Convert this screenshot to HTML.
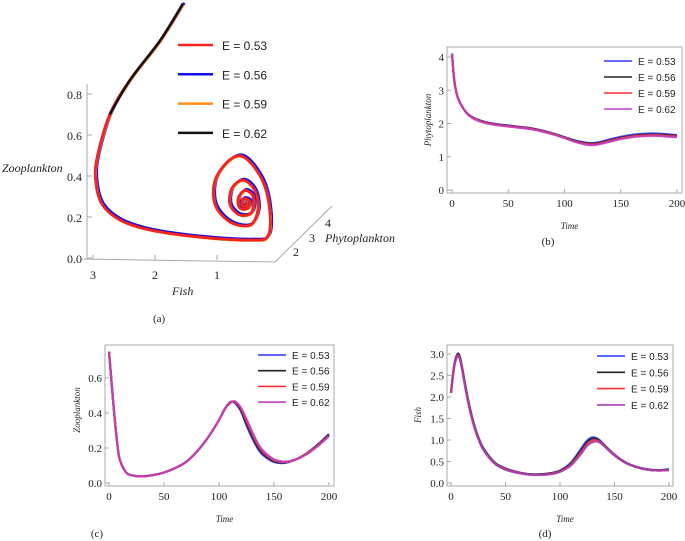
<!DOCTYPE html>
<html><head><meta charset="utf-8"><style>
html,body{margin:0;padding:0;background:#fff;}
svg{display:block;}
text{font-family:"Liberation Serif",serif;fill:#222;}
.lg{font-family:"Liberation Sans",sans-serif;}
</style></head><body>
<svg id="fig" width="685" height="541" viewBox="0 0 685 541" xmlns="http://www.w3.org/2000/svg"></svg>
<script>
// ---- Panel (a) phase portrait data ----
const aFish=[1.55,1.92,2.40,2.73,2.94,2.95,2.85,2.56,2.08,1.27,0.47,0.18,0.15,0.27,0.55,0.79,1.03,1.03,0.79,0.47,0.34,0.39,0.58,0.76,0.79,0.63,0.44,0.42,0.55,0.66,0.63,0.50,0.48,0.58,0.60,0.53,0.53];
const aZoo=[1.24,1.06,0.87,0.70,0.48,0.36,0.26,0.185,0.137,0.102,0.088,0.107,0.234,0.38,0.49,0.48,0.38,0.26,0.176,0.161,0.234,0.33,0.38,0.34,0.26,0.21,0.224,0.30,0.33,0.29,0.244,0.244,0.28,0.29,0.26,0.254,0.28];
const aLegend=["E = 0.53","E = 0.56","E = 0.59","E = 0.62"];
const aColors=["#ff2020","#1010ee","#ff8c1a","#111111"];
// ---- Panel (b) phytoplankton ----
const bTime=[0,2,5,10,15,20,30,40,50,60,70,80,90,100,110,120,125,130,140,150,160,170,180,190,200];
const bS1=[4.1,3.3,2.8,2.45,2.26,2.16,2.04,1.98,1.94,1.90,1.86,1.79,1.70,1.59,1.48,1.42,1.41,1.43,1.52,1.60,1.66,1.69,1.70,1.68,1.65];
const bS2=[4.1,3.3,2.8,2.45,2.25,2.15,2.03,1.97,1.93,1.89,1.85,1.78,1.69,1.58,1.47,1.40,1.39,1.41,1.49,1.57,1.63,1.66,1.67,1.65,1.63];
const bS3=[4.1,3.3,2.8,2.45,2.25,2.14,2.02,1.96,1.92,1.88,1.84,1.77,1.68,1.57,1.45,1.38,1.37,1.39,1.47,1.55,1.61,1.64,1.65,1.63,1.61];
const bS4=[4.1,3.3,2.8,2.45,2.24,2.13,2.01,1.95,1.91,1.87,1.83,1.76,1.67,1.56,1.44,1.36,1.35,1.37,1.45,1.53,1.59,1.62,1.63,1.61,1.59];
const bYTicks=[0,1,2,3,4];
// ---- Panel (c) zooplankton ----
const cTime=[0,2,5,8,10,15,20,30,40,50,60,70,80,90,100,105,110,113,115,120,125,130,135,140,150,160,170,180,190,200];
const cS1=[0.75,0.6,0.38,0.2,0.13,0.065,0.045,0.038,0.045,0.06,0.085,0.12,0.18,0.26,0.36,0.42,0.46,0.462,0.455,0.41,0.33,0.26,0.2,0.16,0.12,0.115,0.135,0.17,0.22,0.28];
const cS2=[0.75,0.6,0.38,0.2,0.13,0.065,0.045,0.038,0.045,0.06,0.085,0.12,0.18,0.26,0.36,0.42,0.46,0.464,0.458,0.415,0.34,0.27,0.21,0.168,0.125,0.118,0.135,0.17,0.22,0.275];
const cS3=[0.75,0.6,0.38,0.2,0.13,0.065,0.045,0.038,0.045,0.06,0.085,0.12,0.18,0.26,0.36,0.42,0.458,0.466,0.462,0.425,0.355,0.285,0.222,0.178,0.13,0.12,0.135,0.168,0.215,0.27];
const cS4=[0.75,0.6,0.38,0.2,0.13,0.065,0.045,0.038,0.045,0.06,0.085,0.12,0.18,0.26,0.36,0.42,0.456,0.466,0.464,0.43,0.365,0.295,0.23,0.185,0.135,0.122,0.135,0.166,0.212,0.268];
const cYTicks=[0,0.2,0.4,0.6];
// ---- Panel (d) fish ----
const dTime=[0,3,6,8,10,15,20,25,30,40,50,60,70,80,90,100,110,120,125,130,135,140,150,160,170,180,190,200];
const dS1=[2.1,2.75,3.0,2.95,2.72,2.02,1.47,1.07,0.8,0.48,0.34,0.26,0.21,0.2,0.22,0.29,0.47,0.82,0.99,1.06,1.02,0.9,0.66,0.48,0.38,0.32,0.3,0.32];
const dS2=[2.1,2.74,2.98,2.93,2.7,2.0,1.45,1.05,0.78,0.47,0.33,0.25,0.21,0.2,0.22,0.28,0.45,0.78,0.95,1.03,1.0,0.89,0.65,0.48,0.37,0.31,0.29,0.31];
const dS3=[2.1,2.73,2.96,2.91,2.68,1.98,1.43,1.04,0.77,0.46,0.32,0.25,0.2,0.19,0.21,0.27,0.43,0.74,0.91,0.99,0.98,0.88,0.65,0.47,0.37,0.31,0.29,0.3];
const dS4=[2.1,2.72,2.94,2.89,2.66,1.96,1.42,1.03,0.76,0.45,0.31,0.24,0.2,0.19,0.2,0.26,0.41,0.7,0.87,0.95,0.96,0.87,0.64,0.47,0.37,0.31,0.29,0.3];
const dYTicks=[0,0.5,1.0,1.5,2.0,2.5,3.0];
const xTicks=[0,50,100,150,200];
const tsLegend=["E = 0.53","E = 0.56","E = 0.59","E = 0.62"];

const NS="http://www.w3.org/2000/svg";
const svg=document.getElementById('fig');
function mk(tag,attrs,parent){const e=document.createElementNS(NS,tag);for(const k in attrs)e.setAttribute(k,attrs[k]);(parent||svg).appendChild(e);return e;}
function smooth(pts){let d="M"+pts[0][0].toFixed(1)+","+pts[0][1].toFixed(1);
 for(let i=0;i<pts.length-1;i++){const p0=pts[Math.max(0,i-1)],p1=pts[i],p2=pts[i+1],p3=pts[Math.min(pts.length-1,i+2)];
  const c1=[p1[0]+(p2[0]-p0[0])/6,p1[1]+(p2[1]-p0[1])/6],c2=[p2[0]-(p3[0]-p1[0])/6,p2[1]-(p3[1]-p1[1])/6];
  d+="C"+c1[0].toFixed(1)+","+c1[1].toFixed(1)+" "+c2[0].toFixed(1)+","+c2[1].toFixed(1)+" "+p2[0].toFixed(1)+","+p2[1].toFixed(1);}
 return d;}

// ---------- Panel (a) ----------
const ga=mk('g',{});


function ax(f){return 93+(3-f)*62;}
function ay(z){return 258-z*205;}
mk('line',{x1:87,y1:84,x2:87,y2:259,stroke:'#aaa','stroke-width':1},ga);
mk('line',{x1:82,y1:259,x2:275,y2:262,stroke:'#aaa','stroke-width':1},ga);
mk('line',{x1:275,y1:262,x2:332,y2:206,stroke:'#aaa','stroke-width':1},ga);
[0,0.2,0.4,0.6,0.8].forEach(v=>{const y=ay(v);mk('line',{x1:87,y1:y,x2:92,y2:y,stroke:'#aaa'},ga);
 const t=mk('text',{x:82,y:y+5,'text-anchor':'end','font-size':12},ga);t.textContent=v.toFixed(1);
 });
[3,2,1].forEach(v=>{const x=ax(v);mk('line',{x1:x,y1:260,x2:x,y2:255,stroke:'#aaa'},ga);
 const t=mk('text',{x:x,y:279,'text-anchor':'middle','font-size':12},ga);t.textContent=String(v);
 });
[[2,293,256],[3,309,242],[4,325,227]].forEach(a=>{const t=mk('text',{x:a[1],y:a[2],'font-size':12},ga);t.textContent=String(a[0]);
 });
let t=mk('text',{x:2,y:172,'font-size':12,'font-style':'italic'},ga);t.textContent='Zooplankton';

t=mk('text',{x:172,y:295,'font-size':12,'font-style':'italic'},ga);t.textContent='Fish';

t=mk('text',{x:325,y:242,'font-size':12,'font-style':'italic'},ga);t.textContent='Phytoplankton';

const clipA=mk('clipPath',{id:'clipA'},ga);mk('rect',{x:0,y:0,width:380,height:300},clipA);
const aPts=aFish.map((f,i)=>[ax(f),ay(aZoo[i])]);
const offs=[[0,0],[1.5,-1],[0.5,0.5],[0,0]];
[1,2,3,0].forEach(k=>{const p=mk('path',{d:smooth(aPts.map(q=>[q[0]+offs[k][0],q[1]+offs[k][1]])),fill:'none',stroke:aColors[k],'stroke-width':2.6,'clip-path':'url(#clipA)'},ga);
 });
const topSeg=aPts.slice(0,4);
mk('path',{d:smooth(topSeg),fill:'none',stroke:'#111','stroke-width':2.4,'clip-path':'url(#clipA)'},ga);
aLegend.forEach((s,i)=>{const y=45+i*29.3;
 const l=mk('line',{x1:178,y1:y,x2:213,y2:y,stroke:aColors[i],'stroke-width':2.5},ga);
 
 const tx=mk('text',{x:222,y:y+5,'font-size':12,class:'lg'},ga);tx.textContent=s;
 });
t=mk('text',{x:153,y:322,'font-size':11},ga);t.textContent='(a)';


// ---------- Time series panels ----------
function panel(o){
 const g=mk('g',{});
 
 
 const sx=v=>o.x0+(v/200)*(o.x1-o.x0);
 const sy=v=>o.y0-(v/o.ymaxT)*(o.y0-o.yT);
 const fr=mk('rect',{x:o.fx0,y:o.fy0,width:o.fx1-o.fx0,height:o.fy1-o.fy0,fill:'none',stroke:'#aaa','stroke-width':1},g);
 
 xTicks.forEach(v=>{const x=sx(v);mk('line',{x1:x,y1:o.fy1,x2:x,y2:o.fy1-4,stroke:'#aaa'},g);
  const tx=mk('text',{x:x,y:o.fy1+14,'text-anchor':'middle','font-size':11},g);tx.textContent=String(v);
  });
 o.yt.forEach(v=>{const y=sy(v);mk('line',{x1:o.fx0,y1:y,x2:o.fx0+4,y2:y,stroke:'#aaa'},g);
  const tx=mk('text',{x:o.fx0-3,y:y+4,'text-anchor':'end','font-size':11},g);tx.textContent=o.dec?v.toFixed(o.dec):String(v);
  });
 o.series.forEach((s,k)=>{const p=mk('path',{d:smooth(o.time.map((tt,i)=>[sx(tt),sy(s[i])])),fill:'none',stroke:o.colors[k],'stroke-width':2.2,'stroke-opacity':0.9},g);
  });
 tsLegend.forEach((s,i)=>{const y=o.ly+i*o.lgap;
  const l=mk('line',{x1:o.lx,y1:y,x2:o.lx+28,y2:y,stroke:o.colors[i],'stroke-width':1.6},g);
  
  const tx=mk('text',{x:o.lx+34,y:y+4,'font-size':10,class:'lg'},g);tx.textContent=s;
  });
 let tx=mk('text',{x:o.ylx,y:o.yly,'font-size':9,'font-style':'italic','text-anchor':'middle',transform:'rotate(-90 '+o.ylx+' '+o.yly+')'},g);tx.textContent=o.ylab;
 
 tx=mk('text',{x:(o.fx0+o.fx1)/2+5,y:o.fy1+36,'font-size':9,'font-style':'italic','text-anchor':'middle'},g);tx.textContent='Time';
 
 tx=mk('text',{x:o.capx,y:o.capy,'font-size':11,'text-anchor':'middle'},g);tx.textContent=o.cap;
 
}
panel({name:'panel-b-phytoplankton',x0:452,x1:677,y0:190,yT:57,ymaxT:4,fx0:447,fx1:682,fy0:47,fy1:193,yt:bYTicks,dec:0,
 time:bTime,series:[bS1,bS2,bS3,bS4],colors:['#3333ff','#222222','#ff3030','#c040c0'],
 lx:604,ly:61,lgap:16,ylab:'Phytoplankton',ylx:431,yly:120,cap:'(b)',capx:548,capy:245});
panel({name:'panel-c-zooplankton',x0:109,x1:329,y0:483,yT:378,ymaxT:0.6,fx0:105,fx1:334,fy0:345,fy1:486,yt:cYTicks,dec:1,
 time:cTime,series:[cS1,cS2,cS3,cS4],colors:['#2233ff','#222222','#ff3030','#c040c0'],
 lx:258,ly:355,lgap:15.7,ylab:'Zooplankton',ylx:80,yly:410,cap:'(c)',capx:97,capy:537});
panel({name:'panel-d-fish',x0:451,x1:669,y0:483,yT:354,ymaxT:3,fx0:447,fx1:673,fy0:345,fy1:486,yt:dYTicks,dec:1,
 time:dTime,series:[dS1,dS2,dS3,dS4],colors:['#2233ff','#222222','#ff3030','#a040b0'],
 lx:597,ly:356,lgap:16.3,ylab:'Fish',ylx:421,yly:415,cap:'(d)',capx:545,capy:537});
</script>
</body></html>
